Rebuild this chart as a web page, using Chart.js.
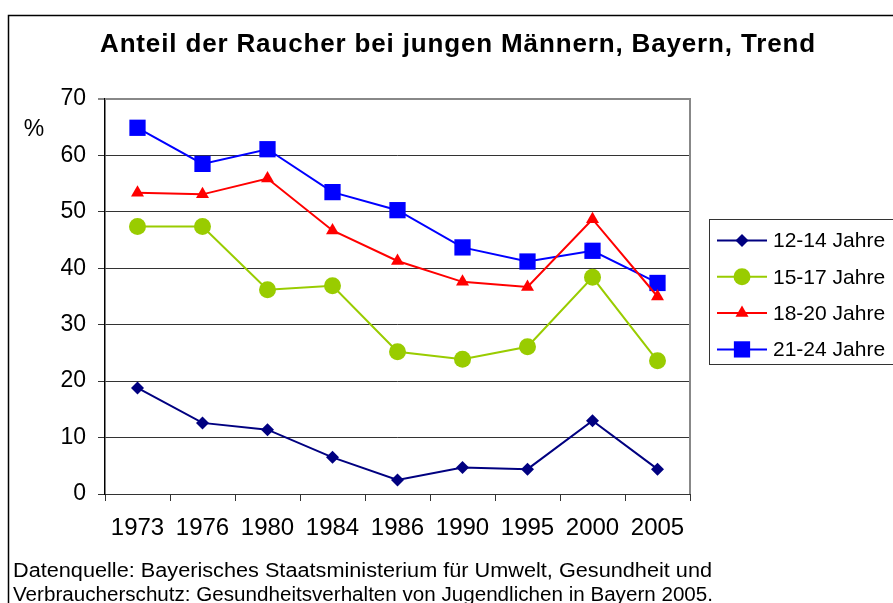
<!DOCTYPE html>
<html><head><meta charset="utf-8">
<script src="https://cdn.jsdelivr.net/npm/chart.js@4.4.1/dist/chart.umd.min.js"></script>
<style>html,body{margin:0;padding:0;background:#fff;} canvas{display:block;}</style>
</head><body>
<canvas id="c" width="893" height="603"></canvas>
<script>
const categories = ['1973','1976','1980','1984','1986','1990','1995','2000','2005'];
const seriesNames = ['12-14 Jahre','15-17 Jahre','18-20 Jahre','21-24 Jahre'];
const values1214 = [18.8,12.6,11.4,6.5,2.5,4.7,4.4,13.0,4.4];
const values1517 = [47.4,47.4,36.2,36.9,25.2,23.9,26.1,38.4,23.6];
const values1820 = [53.4,53.1,55.9,46.7,41.3,37.6,36.7,48.7,35.0];
const values2124 = [64.9,58.5,61.1,53.5,50.3,43.7,41.2,43.1,37.4];
const yTicks = [0,10,20,30,40,50,60,70];
const titleText = 'Anteil der Raucher bei jungen Männern, Bayern, Trend';
const unitLabel = '%';
const sourceLines = [
  'Datenquelle: Bayerisches Staatsministerium für Umwelt, Gesundheit und',
  'Verbraucherschutz: Gesundheitsverhalten von Jugendlichen in Bayern 2005.'
];

const FONT = '"Liberation Sans", Arial, sans-serif';
const styles = [
  {color:'#000080', pointStyle:'rectRot', radius:6.5},
  {color:'#99CC00', pointStyle:'circle', radius:8.5},
  {color:'#FF0000', pointStyle:'triangle', radius:7.5},
  {color:'#0000FF', pointStyle:'rect', radius:11.5}
];
const allValues = [values1214, values1517, values1820, values2124];

const datasets = allValues.map((vals, i) => ({
  label: seriesNames[i],
  data: vals,
  borderColor: styles[i].color,
  backgroundColor: styles[i].color,
  pointBackgroundColor: styles[i].color,
  pointBorderColor: styles[i].color,
  pointBorderWidth: 0,
  pointStyle: styles[i].pointStyle,
  pointRadius: styles[i].radius,
  pointHoverRadius: styles[i].radius,
  borderWidth: 2,
  tension: 0,
  clip: false
}));

const decorPlugin = {
  id: 'decor',
  beforeDraw(chart) {
    const ctx = chart.ctx;
    ctx.save();
    ctx.fillStyle = '#fff';
    ctx.fillRect(0, 0, chart.width, chart.height);
    ctx.restore();
  },
  afterDraw(chart) {
    const ctx = chart.ctx;
    const ca = chart.chartArea;
    ctx.save();
    // outer frame
    ctx.strokeStyle = '#000';
    ctx.lineWidth = 1.5;
    ctx.beginPath();
    ctx.moveTo(8.5, 603);
    ctx.lineTo(8.5, 15.5);
    ctx.lineTo(893, 15.5);
    ctx.stroke();
    // plot border top/right gray
    ctx.strokeStyle = '#888';
    ctx.lineWidth = 2;
    ctx.beginPath();
    ctx.moveTo(ca.left, ca.top);
    ctx.lineTo(ca.right, ca.top);
    ctx.lineTo(ca.right, ca.bottom);
    ctx.stroke();

    // title
    ctx.fillStyle = '#000';
    ctx.font = 'bold 26px ' + FONT;
    ctx.textBaseline = 'alphabetic';
    ctx.textAlign = 'left';
    ctx.letterSpacing = '0px';
    const w0 = ctx.measureText(titleText).width;
    const ls = (715 - w0) / (titleText.length - 1);
    ctx.letterSpacing = ls.toFixed(2) + 'px';
    ctx.fillText(titleText, 100, 52);
    ctx.letterSpacing = '0px';

    // unit label
    ctx.font = '23px ' + FONT;
    ctx.textAlign = 'center';
    ctx.textBaseline = 'middle';
    ctx.fillText(unitLabel, 34, 130);

    // source lines (fitted horizontally)
    ctx.font = '20px ' + FONT;
    ctx.textAlign = 'left';
    ctx.textBaseline = 'alphabetic';
    sourceLines.forEach((s, i) => {
      ctx.letterSpacing = '0px';
      const w = ctx.measureText(s).width;
      const tw = i === 0 ? 699 : 700;
      ctx.save();
      ctx.translate(13, 577 + i * 24);
      ctx.scale(tw / w, 1);
      ctx.fillText(s, 0, 0);
      ctx.restore();
    });

    // legend
    ctx.strokeStyle = '#333';
    ctx.lineWidth = 1;
    ctx.strokeRect(709.5, 219.5, 200, 145);
    chart.data.datasets.forEach((ds, i) => {
      const y = 240.5 + i * 36.3;
      ctx.strokeStyle = ds.borderColor;
      ctx.lineWidth = 2;
      ctx.beginPath();
      ctx.moveTo(717, y);
      ctx.lineTo(767, y);
      ctx.stroke();
      ctx.fillStyle = ds.borderColor;
      Chart.helpers.drawPoint(ctx, {pointStyle: ds.pointStyle, radius: ds.pointRadius, rotation: 0, borderWidth: 0}, 742, y);
      ctx.fillStyle = '#000';
      ctx.font = '21px ' + FONT;
      ctx.textAlign = 'left';
      ctx.textBaseline = 'middle';
      ctx.fillText(ds.label, 773, y + 1);
    });
    ctx.restore();
  }
};

new Chart(document.getElementById('c'), {
  type: 'line',
  data: { labels: categories, datasets },
  options: {
    responsive: false,
    animation: false,
    devicePixelRatio: 1,
    layout: { padding: { left: 8, top: 99, right: 203, bottom: 59 } },
    plugins: { legend: { display: false }, title: { display: false }, tooltip: { enabled: false } },
    scales: {
      x: {
        type: 'category',
        offset: true,
        afterFit(s) { s.height = 50; },
        grid: { display: true, offset: true, drawOnChartArea: false, drawTicks: true, tickLength: 7, color: '#333', lineWidth: 1 },
        border: { display: true, color: '#333', width: 1 },
        ticks: { color: '#000', font: { family: FONT, size: 24 }, padding: 13, maxRotation: 0, autoSkip: false }
      },
      y: {
        min: 0, max: 70,
        afterFit(s) { s.width = 97; },
        afterBuildTicks(s) { s.ticks = yTicks.map(v => ({ value: v })); },
        grid: { color: (c) => (c.tick && c.tick.value === 70 ? '#888' : '#333'), lineWidth: (c) => (c.tick && c.tick.value === 70 ? 2 : 1), tickLength: 7 },
        border: { display: true, color: '#000', width: 1.5 },
        ticks: { color: '#000', font: { family: FONT, size: 23 }, padding: 12, stepSize: 10 }
      }
    }
  },
  plugins: [decorPlugin]
});
</script>
</body></html>
